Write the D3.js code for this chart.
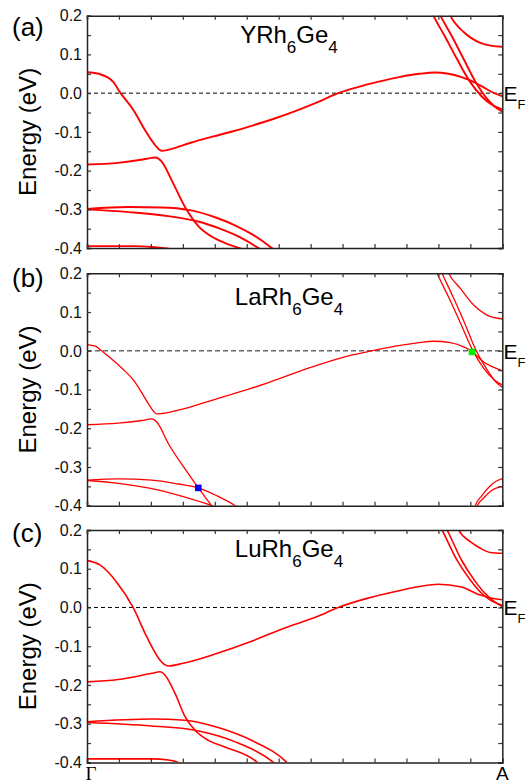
<!DOCTYPE html>
<html><head><meta charset="utf-8">
<script src="https://cdn.jsdelivr.net/npm/d3@7"></script>
<style>html,body{margin:0;padding:0;background:#fff}svg{display:block}</style>
</head><body>
<script>
// ---- data: bands as [k, E(eV)], k from Γ (0) to A (1) ----
const yTicks = [0.2, 0.1, 0.0, -0.1, -0.2, -0.3, -0.4];
const kLabels = ["Γ", "A"];
const panelLabels = ["(a)", "(b)", "(c)"];
const compounds = [["YRh","6","Ge","4"],["LaRh","6","Ge","4"],["LuRh","6","Ge","4"]];

const a1 = [[0,0.054],[0.031,0.049],[0.063,0.029],[0.081,0],[0.112,-0.044],[0.14,-0.096],[0.164,-0.134],[0.18,-0.149],[0.2,-0.145],[0.25,-0.128],[0.3,-0.113],[0.35,-0.099],[0.4,-0.083],[0.45,-0.066],[0.5,-0.047],[0.55,-0.026],[0.605,0],[0.65,0.015],[0.7,0.029],[0.754,0.042],[0.8,0.05],[0.838,0.0535],[0.87,0.05],[0.9,0.042],[0.92,0.034],[0.95,0.018],[0.975,0.003],[1.0,-0.008]];
const a2 = [[0,-0.184],[0.075,-0.18],[0.13,-0.172],[0.156,-0.167],[0.166,-0.166],[0.18,-0.177],[0.204,-0.225],[0.236,-0.294],[0.268,-0.343],[0.3,-0.37],[0.33,-0.386],[0.369,-0.401],[0.38,-0.406]];
const a3 = [[0,-0.299],[0.1,-0.294],[0.18,-0.295],[0.248,-0.302],[0.31,-0.321],[0.36,-0.343],[0.4,-0.366],[0.445,-0.4],[0.46,-0.413]];
const a4 = [[0,-0.3],[0.1,-0.307],[0.2,-0.318],[0.27,-0.332],[0.32,-0.35],[0.37,-0.373],[0.413,-0.4],[0.43,-0.412]];
const a5 = [[0,-0.395],[0.116,-0.395],[0.156,-0.397],[0.192,-0.401],[0.21,-0.404]];
const a6 = [[0.825,0.22],[0.834,0.2],[0.86,0.15],[0.89,0.09],[0.92,0.033],[0.95,-0.008],[0.975,-0.03],[1.0,-0.042]];
const a7 = [[0.842,0.22],[0.851,0.2],[0.877,0.15],[0.906,0.09],[0.935,0.03],[0.96,-0.01],[0.98,-0.033],[1.0,-0.048]];
const a8 = [[0.86,0.24],[0.875,0.2],[0.907,0.158],[0.947,0.13],[0.975,0.122],[1.0,0.12]];

const b1 = [[0,0.016],[0.02,0.012],[0.035,0],[0.06,-0.022],[0.085,-0.046],[0.112,-0.076],[0.13,-0.105],[0.148,-0.137],[0.16,-0.156],[0.168,-0.163],[0.18,-0.162],[0.232,-0.15],[0.312,-0.124],[0.393,-0.098],[0.473,-0.068],[0.553,-0.038],[0.634,-0.012],[0.686,0],[0.754,0.014],[0.8,0.021],[0.835,0.0246],[0.875,0.021],[0.907,0.01],[0.927,-0.002],[0.955,-0.029],[0.98,-0.043],[1.0,-0.052]];
const b2 = [[0,-0.191],[0.075,-0.187],[0.132,-0.18],[0.156,-0.176],[0.168,-0.184],[0.196,-0.24],[0.236,-0.305],[0.268,-0.354],[0.3,-0.4],[0.32,-0.43]];
const b3 = [[0,-0.334],[0.075,-0.331],[0.156,-0.334],[0.22,-0.344],[0.268,-0.354],[0.31,-0.373],[0.357,-0.4],[0.37,-0.41]];
const b4 = [[0,-0.335],[0.08,-0.343],[0.156,-0.356],[0.236,-0.378],[0.3,-0.4],[0.32,-0.41]];
const b5 = [[0.835,0.22],[0.843,0.2],[0.87,0.14],[0.9,0.07],[0.927,0.005],[0.955,-0.045],[0.98,-0.075],[1.0,-0.088]];
const b6 = [[0.847,0.22],[0.855,0.2],[0.881,0.14],[0.91,0.07],[0.935,0.005],[0.962,-0.047],[0.984,-0.08],[1.0,-0.094]];
const b7 = [[0.86,0.23],[0.871,0.2],[0.899,0.161],[0.931,0.118],[0.963,0.092],[1.0,0.082]];
const b8 = [[0.93,-0.42],[0.935,-0.4],[0.95,-0.375],[0.97,-0.35],[0.985,-0.337],[1.0,-0.33]];
const b9 = [[0.935,-0.42],[0.94,-0.4],[0.955,-0.38],[0.975,-0.36],[1.0,-0.35]];

const c1 = [[0,0.121],[0.031,0.11],[0.071,0.066],[0.111,0],[0.144,-0.076],[0.176,-0.136],[0.186,-0.147],[0.196,-0.151],[0.232,-0.144],[0.312,-0.119],[0.393,-0.0886],[0.473,-0.054],[0.553,-0.024],[0.605,0],[0.674,0.0235],[0.754,0.044],[0.8,0.054],[0.846,0.06],[0.899,0.0535],[0.947,0.032],[0.975,0.024],[1.0,0.02]];
const c2 = [[0,-0.192],[0.075,-0.186],[0.156,-0.17],[0.176,-0.166],[0.188,-0.175],[0.212,-0.222],[0.236,-0.282],[0.26,-0.317],[0.292,-0.343],[0.332,-0.36],[0.409,-0.399],[0.42,-0.41]];
const c3 = [[0,-0.295],[0.156,-0.288],[0.236,-0.291],[0.316,-0.31],[0.396,-0.343],[0.481,-0.4],[0.49,-0.41]];
const c4 = [[0,-0.297],[0.156,-0.306],[0.26,-0.317],[0.357,-0.347],[0.449,-0.4],[0.46,-0.41]];
const c5 = [[0,-0.391],[0.156,-0.391],[0.196,-0.394],[0.22,-0.4],[0.23,-0.405]];
const c6 = [[0.845,0.22],[0.855,0.2],[0.891,0.122],[0.923,0.071],[0.947,0.04],[0.971,0.019],[1.0,0.006]];
const c7 = [[0.857,0.22],[0.867,0.2],[0.903,0.12],[0.933,0.07],[0.957,0.038],[0.98,0.016],[1.0,0.002]];
const c8 = [[0.885,0.23],[0.895,0.2],[0.923,0.17],[0.947,0.153],[0.971,0.142],[1.0,0.14]];

const bandsA = [a1,a2,a3,a4,a5,a6,a7,a8];
const bandsB = [b1,b2,b3,b4,b5,b6,b7,b8,b9];
const bandsC = [c1,c2,c3,c4,c5,c6,c7,c8];
const blueMark = [[0.268,-0.354]];
const greenMark = [[0.927,-0.003]];

// ---- layout ----
const W = 525, H = 783;
const left = 87, right = 502.3;
const panelTops = [15.7, 273.3, 530];
const ph = 232.4;
const svg = d3.select("body").append("svg").attr("width", W).attr("height", H);
const x = d3.scaleLinear().domain([0,1]).range([left, right]);
const font = "'Liberation Sans', Arial, sans-serif";

const panels = [
  {bands: bandsA, lw: 1.9, dash: "4,3", dashCol: "#000", dashW: 1, titleDy: 27.5, labDy: 20},
  {bands: bandsB, lw: 1.3, dash: "5,3", dashCol: "#666", dashW: 1.6, titleDy: 32, labDy: 14},
  {bands: bandsC, lw: 1.6, dash: "4,3", dashCol: "#000", dashW: 1, titleDy: 27, labDy: 12}
];

panels.forEach((p, i) => {
  const top = panelTops[i], bottom = top + ph;
  const y = d3.scaleLinear().domain([-0.4, 0.2]).range([bottom, top]);
  const g = svg.append("g");
  const cid = "clip" + i;
  svg.append("clipPath").attr("id", cid).append("rect")
    .attr("x", left).attr("y", top).attr("width", right-left).attr("height", ph);

  // Fermi level dashed line
  g.append("line").attr("x1", left).attr("x2", right).attr("y1", y(0)).attr("y2", y(0))
    .attr("stroke", p.dashCol).attr("stroke-width", p.dashW).attr("stroke-dasharray", p.dash);

  const line = d3.line().x(d => x(d[0])).y(d => y(d[1])).curve(d3.curveMonotoneX);
  g.append("g").attr("clip-path", `url(#${cid})`).selectAll("path").data(p.bands).join("path")
    .attr("d", line).attr("fill", "none").attr("stroke", "#ff0000").attr("stroke-width", p.lw);

  if (i === 1) {
    g.selectAll(".blue").data(blueMark).join("rect")
      .attr("x", d => x(d[0]) - 3.3).attr("y", d => y(d[1]) - 3.3).attr("width", 6.6).attr("height", 6.6)
      .attr("fill", "#0000ff");
    g.selectAll(".green").data(greenMark).join("rect")
      .attr("x", d => x(d[0]) - 3.3).attr("y", d => y(d[1]) - 3.3).attr("width", 6.6).attr("height", 6.6)
      .attr("fill", "#00ee00");
  }

  // axes
  const yMinor = d3.range(-0.4, 0.2001, 0.05);
  const yl = d3.axisLeft(y).tickValues(yMinor).tickSize(-4).tickFormat("");
  const yr = d3.axisRight(y).tickValues(yMinor).tickSize(-4).tickFormat("");
  const xTicks = d3.range(0, 1.0001, 1/13);
  const xt = d3.axisTop(x).tickValues(xTicks).tickSize(-4).tickFormat("");
  const xb = d3.axisBottom(x).tickValues(xTicks).tickSize(-4).tickFormat("");
  [[yl, `translate(${left},0)`], [yr, `translate(${right},0)`], [xt, `translate(0,${top})`], [xb, `translate(0,${bottom})`]]
    .forEach(([ax, tr]) => {
      const a = g.append("g").attr("transform", tr).call(ax);
      a.select(".domain").attr("stroke", "#222").attr("stroke-width", 1.5);
      a.selectAll(".tick line").attr("stroke", "#333").attr("stroke-width", 1.2);
    });

  // y tick labels
  g.selectAll(".ylab").data(yTicks).join("text")
    .attr("x", 82).attr("y", d => y(d)).attr("dy", "0.36em")
    .attr("text-anchor", "end").attr("font-family", font).attr("font-size", 16).attr("fill", "#111")
    .text(d => d3.format(".1f")(d).replace("−", "-"));

  // y axis title
  g.append("text").attr("transform", `translate(36,${(top+bottom)/2}) rotate(-90)`)
    .attr("text-anchor", "middle").attr("font-family", font).attr("font-size", 24).attr("fill", "#000")
    .text("Energy (eV)");

  // panel label
  g.append("text").attr("x", 12).attr("y", top + p.labDy).attr("font-family", font).attr("font-size", 26)
    .attr("fill", "#000").text(panelLabels[i]);

  // compound title
  const c = compounds[i];
  const t = g.append("text").attr("x", 289).attr("y", top + p.titleDy).attr("text-anchor", "middle")
    .attr("font-family", font).attr("font-size", 24).attr("fill", "#000");
  t.append("tspan").text(c[0]);
  t.append("tspan").attr("font-size", 17).attr("dy", 10).text(c[1]);
  t.append("tspan").attr("dy", -10).text(c[2]);
  t.append("tspan").attr("font-size", 17).attr("dy", 10).text(c[3]);

  // E_F label
  const ef = g.append("text").attr("x", 503.5).attr("y", y(0) + 8).attr("font-family", font)
    .attr("font-size", 21).attr("fill", "#000");
  ef.append("tspan").text("E");
  ef.append("tspan").attr("font-size", 13).attr("dy", 8).text("F");

  if (i === 2) {
    g.append("text").attr("x", x(0) + 4).attr("y", bottom + 18).attr("text-anchor", "middle")
      .attr("font-family", "'Liberation Serif', 'Times New Roman', serif").attr("font-size", 19).attr("fill", "#000").text(kLabels[0]);
    g.append("text").attr("x", x(1)).attr("y", bottom + 18).attr("text-anchor", "middle")
      .attr("font-family", font).attr("font-size", 19).attr("fill", "#000").text(kLabels[1]);
  }
});
</script>
</body></html>
